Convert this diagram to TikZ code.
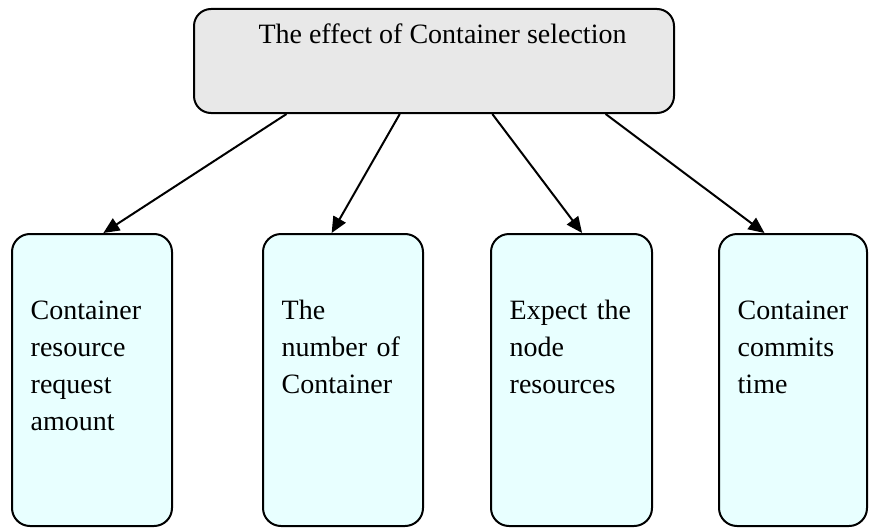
\documentclass[tikz,border=0pt]{standalone}
\usepackage{fontspec}
\setmainfont{Liberation Serif}
\usetikzlibrary{calc,arrows.meta}
\definecolor{topfill}{HTML}{E8E8E8}
\definecolor{boxfill}{HTML}{E8FFFF}
\tikzset{
  topbox/.style={draw=black, line width=2pt, fill=topfill, rounded corners=17pt,
    minimum width=480pt, minimum height=104pt, inner sep=0pt},
  leafbox/.style={draw=black, line width=2pt, fill=boxfill, rounded corners=18pt,
    minimum height=292pt, inner sep=0pt},
  lbl/.style={inner sep=0pt, font=\fontsize{28}{37.3}\selectfont},
  leaftext/.style={lbl, anchor=base west, align=left, text width=#1},
  conn/.style={line width=2pt, -{Triangle[length=16pt,width=14pt]}}
}
\begin{document}
\begin{tikzpicture}[x=1pt,y=-1pt]
\useasboundingbox (0,0) rectangle (869,527);
\node[topbox] (top) at (434,61) {};
\node[lbl, anchor=base] (toptext) at ($(top.north)+(8.5,36)$) {The effect of Container selection};

\node[leafbox, minimum width=160pt] (b1) at (92,380) {};
\node[leafbox, minimum width=160pt] (b2) at (343,380) {};
\node[leafbox, minimum width=161pt] (b3) at (571.5,380) {};
\node[leafbox, minimum width=148pt] (b4) at (793,380) {};

\node[leaftext=135pt] (t1) at ($(b1.north west)+(19.5,86)$) {Container\\resource\\request\\amount};
\node[leaftext=135pt] (t2) at ($(b2.north west)+(19.5,86)$) {The\\number of\\Container};
\node[leaftext=135pt] (t3) at ($(b3.north west)+(19.5,86)$) {Expect the\\node\\resources};
\node[leaftext=125pt] (t4) at ($(b4.north west)+(19.5,86)$) {Container\\commits\\time};

\draw[conn] ($(top.south west)!0.194!(top.south east)$) -- ($(b1.north west)!0.57!(b1.north east)$);
\draw[conn] ($(top.south west)!0.429!(top.south east)$) -- ($(b2.north west)!0.43!(b2.north east)$);
\draw[conn] ($(top.south west)!0.621!(top.south east)$) -- ($(b3.north west)!0.565!(b3.north east)$);
\draw[conn] ($(top.south west)!0.856!(top.south east)$) -- ($(b4.north west)!0.31!(b4.north east)$);
\end{tikzpicture}
\end{document}
